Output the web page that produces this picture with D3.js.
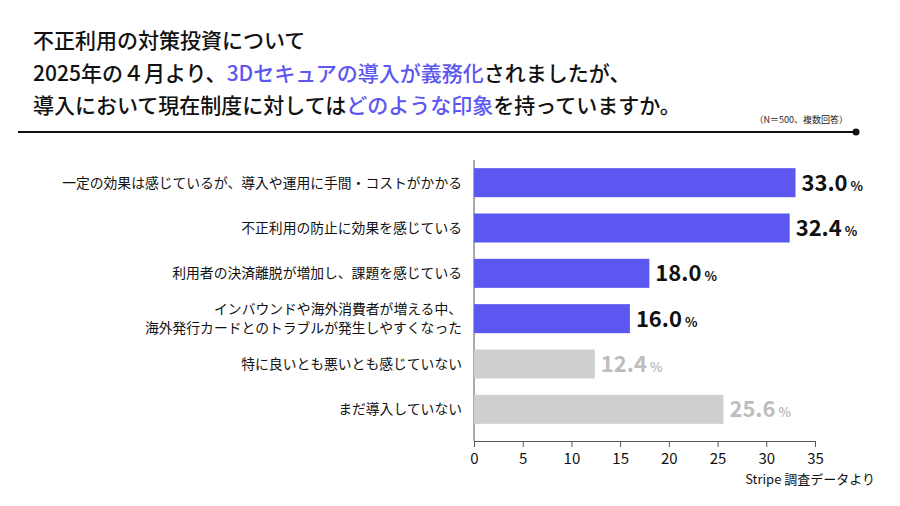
<!DOCTYPE html>
<html><head><meta charset="utf-8">
<script src="https://cdn.jsdelivr.net/npm/d3@7"></script>
<style>body{margin:0;background:#fff}text{font-family:"Noto Sans CJK JP","Noto Sans",sans-serif}</style>
</head><body><svg id="c" width="900" height="506"></svg>
<script>
const categories=[["一定の効果は感じているが、導入や運用に手間・コストがかかる"],["不正利用の防止に効果を感じている"],["利用者の決済離脱が増加し、課題を感じている"],["インバウンドや海外消費者が増える中、","海外発行カードとのトラブルが発生しやすくなった"],["特に良いとも悪いとも感じていない"],["まだ導入していない"]];
const values=[33.0,32.4,18.0,16.0,12.4,25.6];
const highlighted=[true,true,true,true,false,false];
const xTicks=[0,5,10,15,20,25,30,35];
const svg=d3.select("#c");
const purple="#5d57f2",gray="#cfcfcf";
const tl=[[["不正利用の対策投資について",0]],[["2025年の４月より、",0],["3Dセキュアの導入が義務化",1],["されましたが、",0]],[["導入において現在制度に対しては",0],["どのような印象",1],["を持っていますか。",0]]];
tl.forEach((line,i)=>{const t=svg.append("text").attr("x",33).attr("y",48+i*32.5).attr("font-size",21).attr("font-weight",500);
 line.forEach(([s,h])=>t.append("tspan").text(s).attr("fill",h?"#5d57f2":"#111"));});
svg.append("text").attr("x",848).attr("y",123).attr("font-size",9).attr("text-anchor","end").attr("fill","#222").text("（N＝500、複数回答）");
svg.append("line").attr("x1",18).attr("x2",855).attr("y1",132).attr("y2",132).attr("stroke","#111").attr("stroke-width",2);
svg.append("circle").attr("cx",856).attr("cy",132).attr("r",3.5).attr("fill","#111");
const x=d3.scaleLinear().domain([0,35]).range([474,815]);
const y=d3.scaleBand().domain(d3.range(6)).range([160,432]).paddingInner(0.36).paddingOuter(0.18);
svg.append("g").attr("transform","translate(0,441)").call(d3.axisBottom(x).tickValues(xTicks).tickSize(6).tickSizeOuter(0)).call(g=>{g.selectAll("text").attr("font-size",15).attr("fill","#111").attr("dy","0.9em");g.selectAll("line,path").attr("stroke","#555");});
svg.append("line").attr("x1",474).attr("x2",474).attr("y1",160).attr("y2",441).attr("stroke","#555");
values.forEach((v,i)=>{
 svg.append("rect").attr("x",x(0)).attr("y",y(i)).attr("width",x(v)-x(0)).attr("height",y.bandwidth()).attr("fill",highlighted[i]?purple:gray);
 const t=svg.append("text").attr("x",x(v)+6).attr("y",y(i)+y.bandwidth()/2+8).attr("font-size",22).attr("font-weight",700).attr("fill",highlighted[i]?"#111":"#bdbdbd");
 t.append("tspan").text(v.toFixed(1)); t.append("tspan").text("%").attr("font-size",13).attr("dx",3);
 const lines=categories[i];
 lines.forEach((s,k)=>svg.append("text").attr("x",462).attr("text-anchor","end").attr("font-size",13.8).attr("fill","#111")
  .attr("y",y(i)+y.bandwidth()/2+5+(k-(lines.length-1)/2)*19).text(s));
});
svg.append("text").attr("x",875).attr("y",484).attr("text-anchor","end").attr("font-size",13).attr("fill","#111").text("Stripe 調査データより");
</script></body></html>
